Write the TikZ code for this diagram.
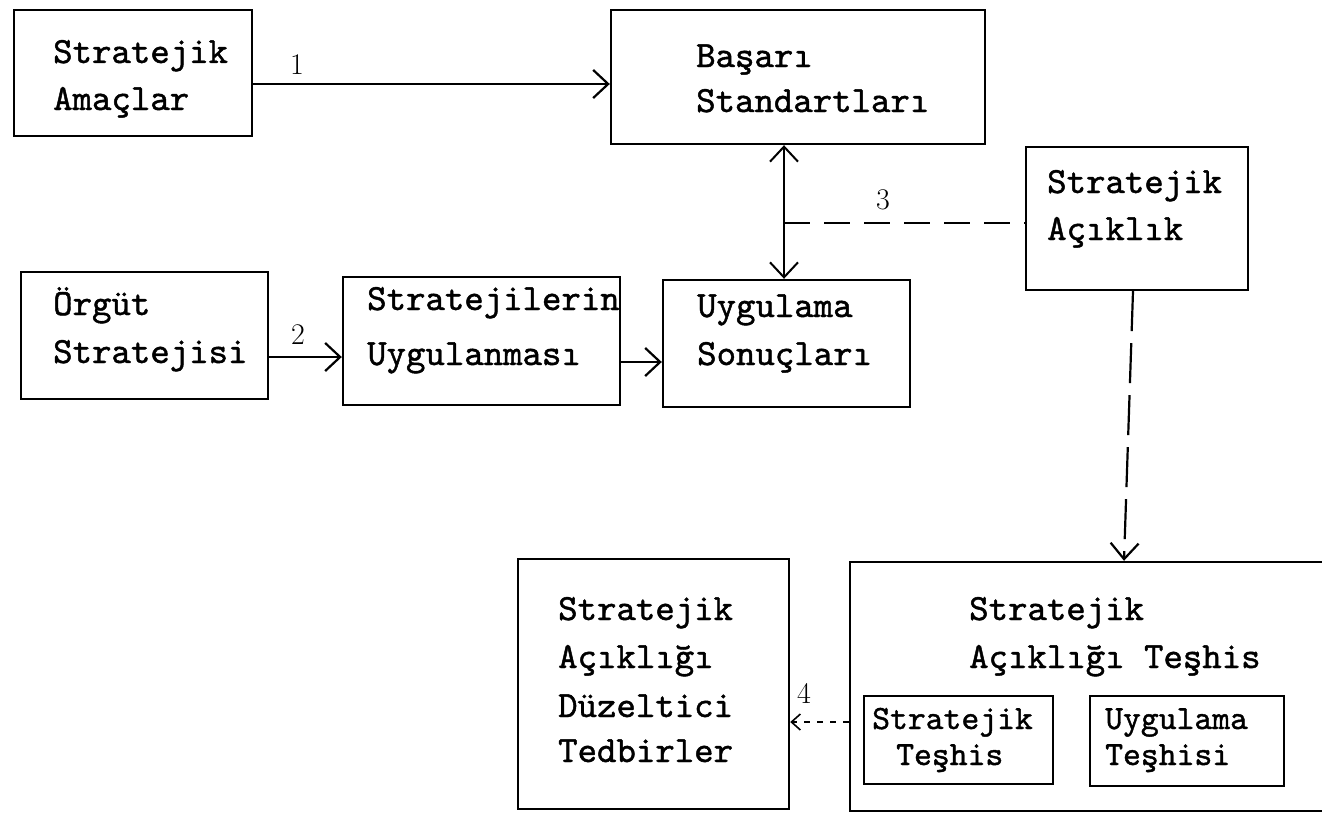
\documentclass[tikz,border=0pt]{standalone}
\usepackage{fontspec}
\newfontfamily\twfam{lmmono10-regular.otf}[FakeBold=1.2]
\newcommand\twfont[1]{\twfam\fontsize{#1}{#1}\selectfont}
\usetikzlibrary{arrows.meta,calc}
\begin{document}
\begin{tikzpicture}[x=1pt,y=-1pt,
  box/.style={draw,line width=2.4pt,rectangle,inner sep=0pt},
  txt/.style={anchor=base west,inner sep=0pt,font=\twfont{37}},
  stxt/.style={anchor=base west,inner sep=0pt,font=\twfont{34}},
  num/.style={inner sep=0pt,font=\fontsize{30}{30}\selectfont},
  arr/.style={line width=2.2pt,-{Straight Barb[length=15pt,width=28pt,line width=2.2pt]}},
  darr/.style={line width=1.3pt,{Straight Barb[length=15pt,width=28pt,line width=2pt]}-{Straight Barb[length=15pt,width=28pt,line width=2pt]}},
  dsh/.style={line width=2.2pt,dash pattern=on 26pt off 14pt}]
\fill[white] (0,0) rectangle (1322,816);
\useasboundingbox (0,0) rectangle (1322,816);
% boxes
\node[box,minimum width=238pt,minimum height=126pt] (A) at (133,73) {};
\node[box,minimum width=374pt,minimum height=134pt] (B) at (798,77) {};
\node[box,minimum width=222pt,minimum height=143pt] (C) at (1137,218.5) {};
\node[box,minimum width=247pt,minimum height=127pt] (D) at (144.5,335.5) {};
\node[box,minimum width=277pt,minimum height=128pt] (E) at (481.5,341) {};
\node[box,minimum width=247pt,minimum height=127pt] (F) at (786.5,343.5) {};
\node[box,minimum width=271pt,minimum height=250pt] (G) at (653.5,684) {};
\node[box,minimum width=490pt,minimum height=249pt] (H) at (1095,686.5) {};
\node[box,minimum width=189pt,minimum height=88pt] (I1) at (958.5,740) {};
\node[box,minimum width=194pt,minimum height=90pt] (I2) at (1187,741) {};
% texts
\node[txt] (tA1) at (53,63) {Stratejik};
\node[txt] (tA2) at (53,110) {Amaçlar};
\node[txt] (tB1) at (696,67) {Başarı};
\node[txt] (tB2) at (696,112) {Standartları};
\node[txt] (tC1) at (1047,193) {Stratejik};
\node[txt] (tC2) at (1047,240) {Açıklık};
\node[txt] (tD1) at (53,315) {Örgüt};
\node[txt] (tD2) at (53,363) {Stratejisi};
\node[txt] (tE1) at (367,310) {Stratejilerin};
\node[txt] (tE2) at (367,365) {Uygulanması};
\node[txt] (tF1) at (697,317) {Uygulama};
\node[txt] (tF2) at (697,365) {Sonuçları};
\node[txt] (tG1) at (558,620) {Stratejik};
\node[txt] (tG2) at (558,668) {Açıklığı};
\node[txt] (tG3) at (558,717) {Düzeltici};
\node[txt] (tG4) at (558,762) {Tedbirler};
\node[txt] (tH1) at (969,620) {Stratejik};
\node[txt] (tH2) at (969,668) {Açıklığı Teşhis};
\node[stxt] (tI11) at (872,729) {Stratejik};
\node[stxt] (tI12) at (896,765) {Teşhis};
\node[stxt] (tI21) at (1105,729) {Uygulama};
\node[stxt] (tI22) at (1105,765) {Teşhisi};
% numbers
\node[num] (n1) at (297,65) {1};
\node[num] (n2) at (298,335) {2};
\node[num] (n3) at (883,200) {3};
\node[num] (n4) at (804,693) {4};
% connectors
\draw[arr] (A.east |- 0,84) -- (B.west |- 0,84);
\draw[arr] (D.east |- 0,357) -- (E.west |- 0,357);
\draw[arr] (E.east |- 0,362) -- (F.west |- 0,362);
\draw[darr] (B.south -| 784,0) -- (F.north -| 784,0);
\coordinate (m3) at (784,223);
\draw[dsh] (m3) -- (C.west |- m3);
\draw[dsh,-{Straight Barb[length=16pt,width=28pt,line width=2.2pt]},dash pattern=on 40pt off 12pt] (C.south -| 1133,0) -- (H.north -| 1124,0);
\draw[line width=1.6pt,dash pattern=on 6pt off 7pt,-{Straight Barb[length=9pt,width=16pt,line width=1.6pt]}] (H.west |- 0,722) -- (G.east |- 0,722);
\end{tikzpicture}
\end{document}
